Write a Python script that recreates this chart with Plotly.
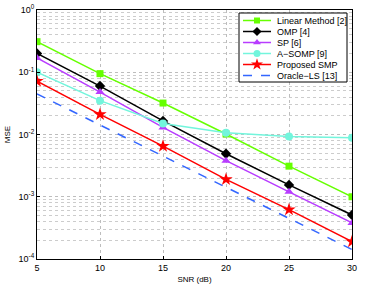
import plotly.graph_objects as go

snr = [5, 10, 15, 20, 25, 30]
linear = [0.31, 0.095, 0.032, 0.0102, 0.0031, 0.001]
omp = [0.20, 0.060, 0.0165, 0.0049, 0.00155, 0.00051]
sp = [0.17, 0.048, 0.013, 0.0038, 0.0012, 0.00038]
asomp = [0.10, 0.035, 0.015, 0.0107, 0.0093, 0.0089]
smp = [0.072, 0.021, 0.0065, 0.0019, 0.00062, 0.00019]
oracle = [0.045, 0.0142, 0.0045, 0.00142, 0.00045, 0.000142]

names = ["Linear Method [2]", "OMP [4]", "SP [6]", "A\u2212SOMP [9]", "Proposed SMP", "Oracle\u2212LS [13]"]
values = [linear, omp, sp, asomp, smp, oracle]
colors = ["#66ff00", "#000000", "#b83cff", "#73f5dc", "#ff0000", "#3366ff"]
symbols = ["square", "diamond", "triangle-up", "circle", "star", None]
dashes = ["solid", "solid", "solid", "solid", "solid", "dash"]
msizes = [7, 8, 8, 8, 10, 0]

# plot area in pixels (for the overlay legend axis)
L, R, T, B = 37, 352, 10, 259
W, H = 366, 286

fig = go.Figure()
for name, vals, col, sym, dash, ms in zip(names, values, colors, symbols, dashes, msizes):
    mode = "lines+markers" if sym else "lines"
    fig.add_trace(go.Scatter(x=snr, y=vals, name=name, mode=mode, showlegend=False,
                             line=dict(color=col, width=1.5, dash=dash),
                             marker=dict(symbol=sym or "circle", size=ms, color=col),
                             hoverinfo="skip"))

# custom legend drawn on an overlay axis measured in pixels
bx0, bx1, by0, by1 = 239, 347, 13, 82
fig.add_trace(go.Scatter(x=[bx0, bx1, bx1, bx0, bx0], y=[by0, by0, by1, by1, by0],
                         xaxis="x2", yaxis="y2", mode="lines", fill="toself",
                         fillcolor="white", line=dict(color="black", width=1),
                         showlegend=False, hoverinfo="skip"))
row_y = [20.5, 31.5, 42.5, 53.5, 64.5, 75.5]
for i, (name, col, sym, dash, ms) in enumerate(zip(names, colors, symbols, dashes, msizes)):
    yy = row_y[i]
    fig.add_trace(go.Scatter(x=[243, 271], y=[yy, yy], xaxis="x2", yaxis="y2", mode="lines",
                             line=dict(color=col, width=1.5, dash=dash),
                             showlegend=False, hoverinfo="skip"))
    if sym:
        fig.add_trace(go.Scatter(x=[257], y=[yy], xaxis="x2", yaxis="y2", mode="markers",
                                 marker=dict(symbol=sym, size=ms - 1, color=col),
                                 showlegend=False, hoverinfo="skip"))
    fig.add_annotation(x=275, y=yy, xref="x2", yref="y2", text=name, showarrow=False,
                       xanchor="left", yanchor="middle", font=dict(size=9, color="black"))

ytickvals = [1, 0.1, 0.01, 0.001, 0.0001]
yticktext = ["10<sup>0</sup>", "10<sup>-1</sup>", "10<sup>-2</sup>", "10<sup>-3</sup>", "10<sup>-4</sup>"]

fig.update_layout(
    width=W, height=H,
    margin=dict(l=L, r=W - R, t=T, b=H - B),
    paper_bgcolor="white", plot_bgcolor="white",
    font=dict(family="Liberation Sans, Arial", size=9, color="black"),
    showlegend=False,
    xaxis2=dict(overlaying="x", range=[L, R], visible=False, fixedrange=True),
    yaxis2=dict(overlaying="y", range=[B, T], visible=False, fixedrange=True),
)
fig.layout.xaxis.update(range=[5, 30], tickvals=snr, automargin=False,
                        title=dict(text="SNR (dB)", standoff=4, font=dict(size=8)),
                        showline=True, linecolor="black", linewidth=1, mirror=True,
                        ticks="inside", ticklen=3, tickcolor="black",
                        showgrid=True, gridcolor="#bdbdbd", griddash="dot", gridwidth=1,
                        zeroline=False, tickfont=dict(size=9))
fig.layout.yaxis.update(type="log", range=[-4, 0], tickvals=ytickvals, ticktext=yticktext,
                        automargin=False,
                        title=dict(text="MSE", standoff=6, font=dict(size=8)),
                        showline=True, linecolor="black", linewidth=1, mirror=True,
                        ticks="inside", ticklen=3, tickcolor="black",
                        showgrid=True, gridcolor="#bdbdbd", griddash="dot", gridwidth=1,
                        minor=dict(dtick="D1", showgrid=True, gridcolor="#cccccc", griddash="dot", ticks=""),
                        zeroline=False, tickfont=dict(size=9))

fig.write_html("out.html", config={"displayModeBar": False},
               post_script="document.body.style.margin='0';")
